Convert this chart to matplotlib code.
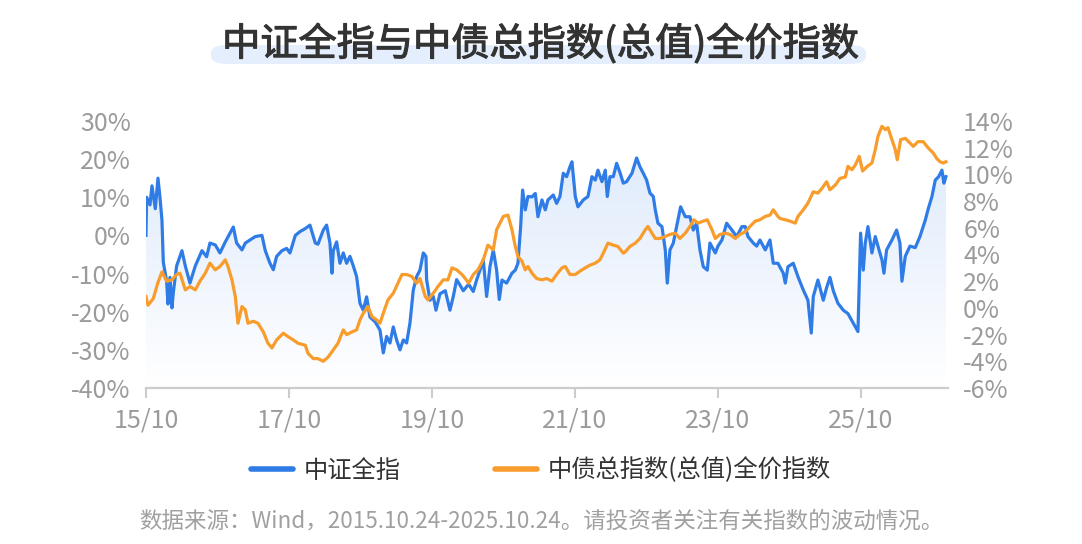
import numpy as np
import matplotlib.pyplot as plt
import matplotlib.patheffects as pe
from matplotlib.colors import LinearSegmentedColormap
from matplotlib.patches import FancyBboxPatch
from matplotlib.lines import Line2D

plt.rcParams['font.family'] = ['Noto Sans CJK SC', 'DejaVu Sans']

# 中证全指 累计涨跌幅(%)，横轴为自2015.10.24起的月数
csi_month = [0.0, 0.1, 0.6, 0.9, 1.4, 1.8, 2.1, 2.4, 2.6, 3.1, 3.3, 3.6, 3.9, 4.1, 4.6, 5.4, 5.9, 6.6, 7.4, 8.4,
             9.1, 9.6, 10.4, 11.1, 11.9, 12.6, 13.1, 13.6, 14.4, 14.9, 15.6, 16.4, 17.4, 17.9, 18.6, 19.1, 19.6, 20.4, 21.1, 21.6,
             22.4, 23.1, 23.9, 24.6, 25.4, 25.8, 26.6, 27.1, 27.6, 27.9, 28.1, 28.6, 29.1, 29.6, 30.1, 30.6, 31.1, 31.6, 32.1, 32.6,
             33.1, 33.6, 34.4, 35.1, 35.6, 36.1, 36.6, 37.1, 37.6, 38.1, 38.6, 39.1, 39.6, 40.1, 40.6, 41.1, 41.6, 42.0, 42.1, 42.6,
             43.1, 43.5, 44.1, 44.9, 45.6, 46.1, 46.6, 47.1, 47.6, 48.4, 49.1, 49.6, 50.1, 50.6, 51.1, 51.6, 52.1, 52.6, 53.0, 53.4,
             54.1, 54.9, 55.4, 55.8, 56.2, 56.5, 56.9, 57.3, 57.9, 58.4, 58.8, 59.4, 59.9, 60.3, 61.1, 61.6, 62.1, 62.6, 63.1, 63.6,
             63.9, 64.4, 64.8, 65.6, 66.3, 66.9, 67.4, 67.8, 68.4, 68.9, 69.2, 69.6, 70.1, 70.6, 71.1, 71.6, 72.1, 72.9, 73.6, 74.1,
             74.6, 75.1, 75.6, 76.1, 76.4, 76.8, 77.4, 77.9, 78.2, 78.6, 79.1, 79.6, 80.2, 80.9, 81.6, 82.1, 82.6, 83.1, 83.6, 84.2,
             84.6, 85.4, 85.8, 86.4, 87.1, 87.9, 88.6, 89.4, 89.9, 90.3, 91.1, 91.6, 92.1, 92.9, 93.6, 94.1, 94.8, 95.6, 95.9, 96.3,
             97.1, 97.8, 98.6, 99.3, 99.8, 100.1, 100.8, 101.6, 102.1, 102.6, 103.1, 103.8, 104.6, 105.3, 106.1, 106.8, 107.2, 107.6, 107.9, 108.3,
             108.9, 109.4, 109.8, 110.4, 110.7, 111.1, 111.9, 112.6, 113.1, 113.4, 113.9, 114.6, 115.4, 116.1, 116.9, 117.3, 117.9, 118.4, 118.9, 119.4,
             119.7, 120.0]
csi_ret = [0, 10, 8, 13, 7, 15, 10, 4, -7, -12, -18, -11, -19, -15, -8, -4, -8, -12.5, -8, -4,
           -5.6, -2, -2.5, -4.6, -1.7, 0.6, 2.2, -2, -3.8, -2, -1.2, -0.3, 0, -4, -7.3, -9, -5.5, -4, -3.4, -4.6,
           0, 1.0, 1.8, 2.7, -2, -2.3, 1.4, 2.7, -2, -9.9, -4, -1.7, -7.3, -4.6, -7.3, -5.5, -8, -10.8, -17.8, -19.6,
           -16.1, -21.4, -22.7, -24.8, -30.8, -26.5, -28.2, -24, -27.4, -30, -27.4, -28.2, -23, -14.3, -10.8, -9.1, -4.6, -5.5, -11.6, -17,
           -16, -19.6, -15.3, -14.5, -19.6, -16, -11.6, -13, -14.5, -12.8, -14.7, -11.7, -9.1, -6.4, -16, -8.2, -3.8, -9.1, -16.8, -11.7,
           -12.5, -9.9, -9.1, -7.3, 2.2, 11.9, 6.7, 10.2, 10.1, 11, 4.9, 9.3, 6.7, 9.3, 10.6, 8.4, 10.2, 16.3, 15.4, 18,
           19.3, 10.2, 7.5, 9.3, 10.2, 15.4, 14.5, 17.1, 14.1, 17.1, 10.2, 15.4, 15.4, 18.9, 16.5, 13.7, 14.1, 16.3, 20.3, 18,
           16.3, 14.5, 11.1, 10.2, 6.7, 3.2, 2.3, -3.8, -12.5, -3.8, -2, 2.3, 7.5, 4.9, 4.9, 1.4, 3.2, -3.8, -8.2, -9.1,
           -2, -4.6, -2.8, -1.2, 3.2, 1.4, -0.3, 2.3, 2.3, -0.3, -2, -2.8, -1.2, -3.8, -1.2, -7.3, -7.3, -9.9, -12.5, -8.2,
           -7.3, -10.8, -14.3, -17, -25.6, -16, -11.7, -17, -13.7, -11, -14.5, -17.8, -19.6, -20.5, -23, -25.2, 0.6, -9.1, -2, 2.3,
           -4.6, -0.3, -2.8, -6.4, -9.9, -3.8, -1.2, 1.4, -2, -12, -5.5, -2.8, -3.2, -0.3, 4, 6.7, 10.2, 14.5, 15.4, 17.1,
           13.7, 15.4]

# 中债总指数(总值)全价指数 累计涨跌幅(%)
bond_month = [0.0, 0.3, 1.1, 1.8, 2.4, 3.1, 3.9, 4.6, 5.1, 5.9, 6.6, 7.4, 8.1, 8.9, 9.6, 10.4, 11.1, 11.9, 12.3, 12.9,
              13.4, 13.8, 14.4, 14.9, 15.3, 16.1, 16.8, 17.6, 18.3, 18.9, 19.6, 20.6, 21.3, 22.1, 22.8, 23.9, 24.3, 25.1, 25.8, 26.6,
              27.3, 28.1, 28.8, 29.6, 30.1, 30.9, 31.6, 32.1, 32.6, 33.3, 33.9, 34.6, 35.1, 35.6, 36.3, 37.1, 37.8, 38.4, 39.1, 39.9,
              40.6, 41.1, 41.9, 42.3, 43.1, 43.8, 44.6, 45.3, 45.9, 46.6, 47.4, 47.9, 48.4, 49.1, 49.8, 50.6, 51.3, 52.1, 52.6, 53.1,
              53.6, 54.3, 54.9, 55.4, 55.8, 56.4, 56.9, 57.3, 57.9, 58.6, 59.4, 60.1, 60.9, 61.6, 62.4, 62.9, 63.6, 64.4, 65.1, 65.9,
              66.6, 67.4, 68.1, 68.6, 69.3, 70.1, 70.8, 71.6, 71.9, 72.6, 73.4, 74.1, 74.9, 75.3, 75.9, 76.4, 77.1, 77.9, 78.6, 79.4,
              80.1, 80.9, 81.6, 82.2, 82.8, 83.6, 84.2, 84.9, 85.4, 86.1, 86.9, 87.6, 88.4, 89.1, 89.9, 90.6, 91.4, 92.1, 92.9, 93.6,
              94.1, 94.8, 95.1, 95.9, 96.6, 97.4, 97.8, 98.6, 99.3, 100.1, 100.8, 101.4, 102.1, 102.6, 103.4, 104.1, 104.9, 105.3, 105.9, 106.4,
              107.0, 107.5, 108.2, 108.9, 109.4, 109.8, 110.4, 110.9, 111.3, 111.9, 112.4, 112.7, 113.2, 113.9, 114.6, 115.1, 115.8, 116.6, 117.3, 118.1,
              118.6, 119.1, 119.6, 120.0]
bond_ret = [0.85, 0.2, 0.7, 1.9, 2.7, 2.0, 2.1, 2.5, 2.6, 1.35, 1.6, 1.35, 2.0, 2.6, 3.35, 2.85, 3.1, 3.6, 3.1, 2.1,
            0.85, -1.15, 0.1, -0.15, -1.15, -1.0, -1.15, -1.8, -2.65, -3.0, -2.4, -1.9, -2.15, -2.4, -2.65, -2.8, -3.4, -3.8, -3.8, -4.0,
            -3.7, -3.15, -2.65, -1.65, -2.0, -1.8, -1.65, -0.9, -0.4, 0.1, -0.65, -0.9, -1.15, -0.4, 0.6, 1.1, 1.85, 2.5, 2.5, 2.35,
            1.85, 2.2, 0.85, 0.6, 1.1, 1.6, 2.1, 2.1, 3.0, 2.85, 2.5, 2.2, 1.85, 2.5, 2.85, 3.6, 4.7, 4.35, 5.85, 6.35,
            6.85, 6.95, 5.85, 4.6, 3.85, 3.5, 2.85, 3.1, 2.6, 2.2, 2.1, 2.2, 2.0, 2.5, 3.0, 3.1, 2.5, 2.5, 2.75, 3.0,
            3.2, 3.35, 3.6, 4.1, 4.85, 4.7, 4.6, 4.1, 4.2, 4.6, 4.85, 5.2, 5.85, 6.1, 5.6, 5.2, 5.2, 5.35, 5.5, 5.6,
            5.2, 5.6, 6.1, 6.6, 6.35, 6.5, 6.6, 5.85, 5.2, 5.5, 5.6, 5.5, 5.2, 5.5, 5.7, 6.1, 6.5, 6.6, 6.85, 6.95,
            7.35, 6.85, 6.7, 6.6, 6.5, 6.35, 6.85, 7.35, 7.85, 8.7, 8.6, 8.95, 9.45, 8.85, 9.2, 9.7, 9.8, 10.6, 10.35, 10.7,
            11.35, 10.25, 10.6, 10.85, 11.85, 12.85, 13.6, 13.35, 13.5, 12.6, 11.85, 11.1, 12.6, 12.7, 12.35, 12.1, 12.45, 12.45, 12.0, 11.6,
            11.2, 10.95, 10.85, 10.95]

x_labels = ['15/10', '17/10', '19/10', '21/10', '23/10', '25/10']
left_ticks = [-40, -30, -20, -10, 0, 10, 20, 30]
right_ticks = [-6, -4, -2, 0, 2, 4, 6, 8, 10, 12, 14]

blue = '#2f7ce6'
orange = '#f89c2c'
grey = '#9b9b9b'

fig = plt.figure(figsize=(10.82, 5.44), dpi=100)
ax = fig.add_axes([0.1349, 0.2868, 0.7412, 0.4908])
ax2 = ax.twinx()

# 蓝线下方的渐变填充
poly = ax.fill_between(csi_month, csi_ret, -40, color='none', lw=0)
cmap = LinearSegmentedColormap.from_list('fade', ['#ffffff', '#dbe8fb'])
grad = np.linspace(0, 1, 256).reshape(-1, 1)
img = ax.imshow(grad, extent=[0, 120.3, -40, 30], origin='lower', aspect='auto', cmap=cmap, zorder=0.5)
img.set_clip_path(poly.get_paths()[0], transform=ax.transData)

ax.plot(csi_month, csi_ret, color=blue, lw=2.3, zorder=2)
ax2.plot(bond_month, bond_ret, color=orange, lw=2.3, zorder=3)

ax.set_xlim(0, 120.3)
ax.set_ylim(-40, 30)
ax2.set_ylim(-6, 14)
ax.set_yticks(left_ticks)
ax.set_yticklabels([f'{v}%' for v in left_ticks])
ax2.set_yticks(right_ticks)
ax2.set_yticklabels([f'{v}%' for v in right_ticks])
ax.set_xticks(np.arange(len(x_labels)) * 21.45)
ax.set_xticklabels(x_labels)

for a in (ax, ax2):
    for s in ('top', 'left', 'right'):
        a.spines[s].set_visible(False)
    a.spines['bottom'].set_color('#cccccc')
    a.spines['bottom'].set_linewidth(1.5)
ax.tick_params(axis='y', length=0, pad=11, labelsize=18, labelcolor=grey)
ax2.tick_params(axis='y', length=0, pad=11, labelsize=18, labelcolor=grey)
ax.tick_params(axis='x', length=7, width=1.5, color='#cccccc', pad=7, labelsize=18, labelcolor=grey)

# 标题及底部高亮
fig.patches.append(FancyBboxPatch((211 / 1082, 1 - 64 / 544), 655 / 1082, 19 / 544,
                                  boxstyle='round,pad=0,rounding_size=0.015',
                                  transform=fig.transFigure, fc='#e4eefc', ec='none', zorder=0))
fig.text(0.5, 0.918, '中证全指与中债总指数(总值)全价指数', ha='center', va='center',
         fontsize=27.5, color='#333333', zorder=2,
         path_effects=[pe.withStroke(linewidth=0.8, foreground='#333333')])

handles = [Line2D([], [], color=blue, lw=4, solid_capstyle='round'),
           Line2D([], [], color=orange, lw=4, solid_capstyle='round')]
fig.legend(handles, ['中证全指', '中债总指数(总值)全价指数'], loc='center', bbox_to_anchor=(0.5, 0.135),
           ncol=2, frameon=False, fontsize=17.5, handlelength=1.7, handletextpad=0.45, columnspacing=3.9,
           labelcolor='#333333')

fig.text(0.5, 0.042, '数据来源：Wind，2015.10.24-2025.10.24。请投资者关注有关指数的波动情况。',
         ha='center', va='center', fontsize=16.2, color='#a0a0a0')

fig.savefig('out.png', dpi=100)
